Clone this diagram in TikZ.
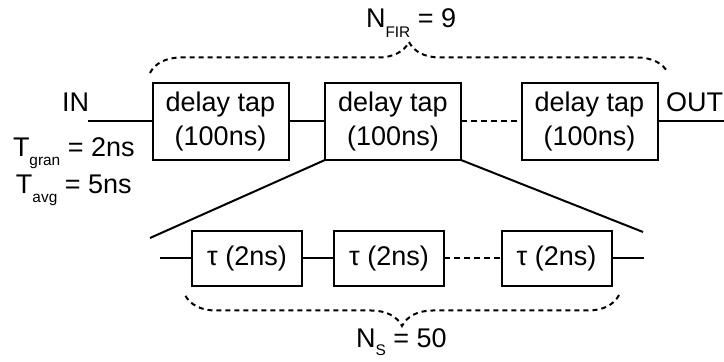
\documentclass[tikz,border=0pt]{standalone}
\usepackage{fontspec}
\setmainfont{Liberation Sans}
\usetikzlibrary{decorations.pathreplacing}
\newcommand\lowsub[2][4.5pt]{\raisebox{-#1}{\fontsize{7.7}{8}\selectfont #2}}
\begin{document}
\begin{tikzpicture}[x=0.5pt,y=-0.5pt,line width=1pt,
  every node/.style={font=\fontsize{13.5}{17}\selectfont, inner sep=0pt, outer sep=0pt},
  tapbox/.style={draw, rectangle, minimum width=68pt, minimum height=38.5pt, align=center},
  taubox/.style={draw, rectangle, minimum width=55pt, minimum height=27.5pt},
  dashln/.style={dash pattern=on 3pt off 2pt},
  dbrace/.style={dash pattern=on 2.5pt off 2pt, decorate, decoration={brace, amplitude=15.5pt}},
  lbl/.style={anchor=base west}]
\useasboundingbox (0,0) rectangle (724,362);
% top row
\node[tapbox] (t1) at (220.5,121.5) {delay tap\\(100ns)};
\node[tapbox] (t2) at (393,121.5) {delay tap\\(100ns)};
\node[tapbox] (t3) at (589.5,121.5) {delay tap\\(100ns)};
\coordinate (inpt) at (88,121.5);
\coordinate (outpt) at (724,121.5);
\draw (inpt) -- (t1.west);
\draw (t1.east) -- (t2.west);
\draw[dashln] (t2.east) -- (t3.west);
\draw (t3.east) -- (outpt);
\node[lbl] (inlbl) at (62,112) {IN};
\node[lbl] (outlbl) at (666,112) {OUT};
\node[lbl] (tgran) at (13,157) {T\lowsub{gran} = 2ns};
\node[lbl] (tavg) at (16,194) {T\lowsub{avg} = 5ns};
% top brace
\coordinate (tb1) at (150,73);
\coordinate (tb2) at (668,73);
\draw[dbrace] (tb1) -- (tb2);
\node[lbl] (nfir) at (366,28) {N\lowsub[5pt]{FIR} = 9};
% zoom lines
\coordinate (zl) at (150,238);
\coordinate (zr) at (643,232);
\draw (t2.south west) -- (zl);
\draw (t2.south east) -- (zr);
% bottom row
\node[taubox] (b1) at (247,258.5) {τ (2ns)};
\node[taubox] (b2) at (389,258.5) {τ (2ns)};
\node[taubox] (b3) at (556.5,258.5) {τ (2ns)};
\coordinate (bin) at (160,258.5);
\coordinate (bout) at (644,258.5);
\draw (bin) -- (b1.west);
\draw (b1.east) -- (b2.west);
\draw[dashln] (b2.east) -- (b3.west);
\draw (b3.east) -- (bout);
% bottom brace
\coordinate (bb1) at (185,295);
\coordinate (bb2) at (619,295);
\draw[dbrace] (bb2) -- (bb1);
\node[lbl] (ns) at (356,348) {N\lowsub[4pt]{S} = 50};
\end{tikzpicture}
\end{document}
